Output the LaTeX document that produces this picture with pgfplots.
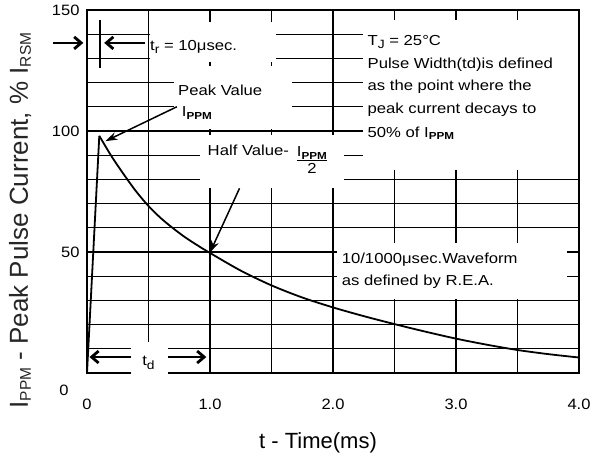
\documentclass[border=0pt]{standalone}
\usepackage{fontspec}
\setmainfont{Liberation Sans}
\newfontfamily\annfont[FakeStretch=1.15]{Liberation Sans}
\newfontfamily\tickfont[FakeStretch=1.1]{Liberation Sans}
\usepackage{pgfplots}
\pgfplotsset{compat=1.18}
\usetikzlibrary{arrows.meta}
\newcommand{\fs}{\annfont\fontsize{14.5}{17}\selectfont}
\newcommand{\ippm}{I\textsubscript{\bfseries PPM}}
\newcommand{\ysub}[1]{\raisebox{-0.12em}{\fontsize{15.5}{15.5}\selectfont #1}}
\newcommand{\tsub}[1]{\raisebox{-0.25em}{\fontsize{12}{12}\selectfont #1}}
\begin{document}
\begin{tikzpicture}
\useasboundingbox (-87pt,-89pt) rectangle (514pt,373pt);
\begin{axis}[
  at={(0pt,0pt)}, anchor=south west,
  scale only axis, width=492pt, height=363pt,
  xmin=0, xmax=4, ymin=0, ymax=150,
  xtick={0,1,2,3,4}, xticklabels={0,1.0,2.0,3.0,4.0},
  minor xtick={0.5,1.5,2.5,3.5},
  ytick={50,100,150},
  minor ytick={10,20,30,40,60,70,80,90,110,120,130,140},
  grid=both,
  major grid style={black, line width=1.3pt},
  minor grid style={black, line width=1.3pt},
  major tick length=0pt, minor tick length=0pt,
  tick label style={font=\tickfont\fontsize{15}{18}\selectfont, /pgf/number format/assume math mode=true},
  xticklabel style={yshift=-22pt},
  yticklabel style={xshift=-4pt},
  axis line style={line width=2.5pt},
  clip=false,
  xlabel={t - Time(ms)},
  xlabel style={at={(axis description cs:0.5,0)}, anchor=center, yshift=-70pt, xshift=-15pt, font=\fontsize{22}{24}\selectfont},
  ylabel={I\ysub{PPM} - Peak Pulse Current, \% I\ysub{RSM}},
  ylabel style={at={(axis description cs:0,0.42)}, anchor=center, yshift=67pt, font=\fontsize{26}{28}\selectfont, text=black!85},
]
% white masks behind annotations
\fill[white] (axis cs:0.51,128.5) rectangle (axis cs:1.54,145);
\fill[white] (axis cs:0.71,100.8) rectangle (axis cs:1.67,127);
\fill[white] (axis cs:0.92,76.4) rectangle (axis cs:2.09,98.3);
\fill[white] (axis cs:2.24,84) rectangle (axis cs:4,146);
\fill[white] (axis cs:2.03,30.5) rectangle (axis cs:3.9,53.6);
\fill[white] (axis cs:0.36,-3) rectangle (axis cs:0.66,13);

% waveform
\addplot[black, line width=1.8pt] coordinates {(0,0) (0.1,98)};
\addplot[black, line width=1.8pt, smooth] coordinates {
 (0.1,98) (0.2,89.5) (0.3,82) (0.4,75) (0.5,69) (0.6,64) (0.7,59.8) (0.8,56)
 (0.9,52.7) (1.0,49.6) (1.25,42.3) (1.5,36.2) (1.75,31.2) (2.0,27.1) (2.25,23.5)
 (2.5,20.2) (2.75,17.1) (3.0,14.2) (3.25,11.7) (3.5,9.5) (3.75,7.8) (4.0,6.4)};

% t_r marker
\draw[line width=2.8pt, -{Straight Barb[length=7pt,width=12pt]}] (axis cs:-0.276,136.4) -- (axis cs:-0.03,136.4);
\draw[line width=2.8pt, -{Straight Barb[length=7pt,width=12pt]}] (axis cs:0.47,136.4) -- (axis cs:0.14,136.4);
\draw[line width=2.5pt] (axis cs:0.106,126) -- (axis cs:0.106,146);
\node[anchor=west, font=\fs, inner sep=0pt] at (axis cs:0.512,134.7) {t\tsub{r} = 10μsec.};

% peak value
\node[anchor=west, font=\fs, inner sep=0pt] at (axis cs:0.74,117) {Peak Value};
\node[anchor=west, font=\fs, inner sep=0pt] at (axis cs:0.77,107.4) {\ippm};
\draw[line width=1.5pt, -{Stealth[length=12pt,width=8pt]}] (axis cs:0.73,110) -- (axis cs:0.15,95.8);

% half value
\node[anchor=west, font=\fs, inner sep=0pt] at (axis cs:0.98,92.1) {Half Value-};
\node[font=\fs, inner sep=0pt] at (axis cs:1.83,87.3) {\begin{tabular}{@{}c@{}}\ippm\\[-2pt]\hline\rule{0pt}{13pt}2\end{tabular}};
\draw[line width=1.5pt, -{Stealth[length=12pt,width=8pt]}] (axis cs:1.24,76.3) -- (axis cs:1.0,49.8);

% right block
\node[anchor=west, font=\fs, inner sep=0pt] at (axis cs:2.28,136.8) {T\tsub{J} = 25°C};
\node[anchor=west, font=\fs, inner sep=0pt] at (axis cs:2.28,127.3) {Pulse Width(td)is defined};
\node[anchor=west, font=\fs, inner sep=0pt] at (axis cs:2.28,118.2) {as the point where the};
\node[anchor=west, font=\fs, inner sep=0pt] at (axis cs:2.28,108.7) {peak current decays to};
\node[anchor=west, font=\fs, inner sep=0pt] at (axis cs:2.28,99.2) {50\% of \ippm};

% waveform note
\node[anchor=west, font=\fs, inner sep=0pt] at (axis cs:2.07,46.7) {10/1000μsec.Waveform};
\node[anchor=west, font=\fs, inner sep=0pt] at (axis cs:2.07,37.6) {as defined by R.E.A.};

% t_d
\draw[line width=2.8pt, -{Straight Barb[length=7pt,width=12pt]}] (axis cs:0.36,6.6) -- (axis cs:0.02,6.6);
\draw[line width=2.8pt, -{Straight Barb[length=7pt,width=12pt]}] (axis cs:0.66,6.6) -- (axis cs:0.97,6.6);
\node[font=\fs, inner sep=0pt] at (axis cs:0.5,4.1) {t\tsub{d}};

% y tick label 0
\node[font=\tickfont\fontsize{15}{18}\selectfont] at (axis cs:0,0) [xshift=-23pt, yshift=-17pt] {0};

% frame
\draw[line width=2.5pt] (axis cs:0.36,0) -- (axis cs:0,0) -- (axis cs:0,150) -- (axis cs:4,150) -- (axis cs:4,0) -- (axis cs:0.66,0);
\end{axis}
\end{tikzpicture}
\end{document}
